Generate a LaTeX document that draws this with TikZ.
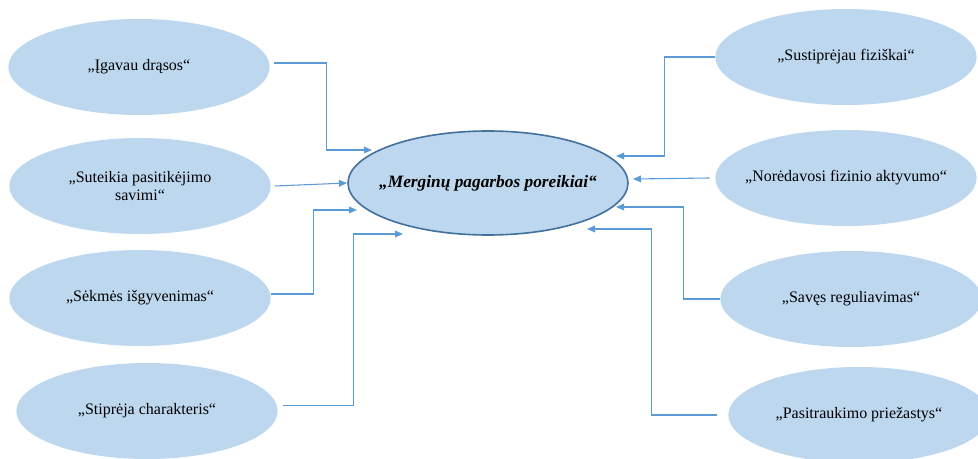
\documentclass[tikz,border=0pt]{standalone}
\usepackage{fontspec}
\setmainfont{Liberation Serif}
\newfontfamily\tnr{Liberation Serif}
\usetikzlibrary{shapes.geometric,arrows.meta}
\definecolor{bubble}{HTML}{BDD7EE}
\definecolor{rim}{HTML}{41719C}
\definecolor{link}{HTML}{5B9BD5}
% zero-width line so the ellipse size comes from the style alone
\newcommand{\zline}[1]{\makebox[0pt][c]{#1}}
\begin{document}
\begin{tikzpicture}[x=0.75pt,y=-0.75pt,
  leaf/.style={ellipse,fill=bubble,minimum width=196pt,minimum height=72pt,
    inner sep=0pt,align=center,font=\tnr\fontsize{12}{14}\selectfont},
  hub/.style={ellipse,fill=bubble,draw=rim,line width=1.2pt,minimum width=210pt,
    minimum height=78pt,inner sep=0pt,font=\tnr\fontsize{13}{16}\selectfont\bfseries\itshape},
  conn/.style={draw=link,line width=0.8pt,-{Triangle[length=6pt,width=5pt]}}]
\clip (0,0) rectangle (978,459);

% central topic
\node[hub] (hub) at (488,183) {\zline{„Merginų pagarbos poreikiai“}};

% left column
\node[leaf] (l1) at (139,67)  {\zline{„Įgavau drąsos“}};
\node[leaf] (l2) at (140,186) {\zline{„Suteikia pasitikėjimo}\\\zline{savimi“}};
\node[leaf] (l3) at (140,298) {\zline{„Sėkmės išgyvenimas“}};
\node[leaf] (l4) at (147,411) {\zline{„Stiprėja charakteris“}};

% right column
\node[leaf] (r1) at (846,57)  {\zline{„Sustiprėjau fiziškai“}};
\node[leaf] (r2) at (846,178) {\zline{„Norėdavosi fizinio aktyvumo“}};
\node[leaf] (r3) at (851,299) {\zline{„Savęs reguliavimas“}};
\node[leaf] (r4) at (859,415) {\zline{„Pasitraukimo priežastys“}};

% arrow tips around the central topic
\coordinate (a1) at (372,150);
\coordinate (a2) at (347,183);
\coordinate (a3) at (357,210);
\coordinate (a4) at (403,234);
\coordinate (a5) at (616,156);
\coordinate (a6) at (633,179);
\coordinate (a7) at (616,207);
\coordinate (a8) at (587,229);

% connectors
\draw[conn] ([shift={(3pt,3pt)}]l1.east) -- ++(53,0) |- (a1);
\draw[conn] ([xshift=3pt]l2.east) -- (a2);
\draw[conn] ([yshift=3pt]l3.east) -- ++(43,0) |- (a3);
\draw[conn] ([shift={(4pt,4pt)}]l4.east) -- ++(70,0) |- (a4);
\draw[conn] (r1.west) -- ++(-51,0) |- (a5);
\draw[conn] ([xshift=-4pt]r2.west) -- (a6);
\draw[conn] (r3.west) -- ++(-37,0) |- (a7);
\draw[conn] ([xshift=-8pt]r4.west) -- ++(-66,0) |- (a8);
\end{tikzpicture}
\end{document}
